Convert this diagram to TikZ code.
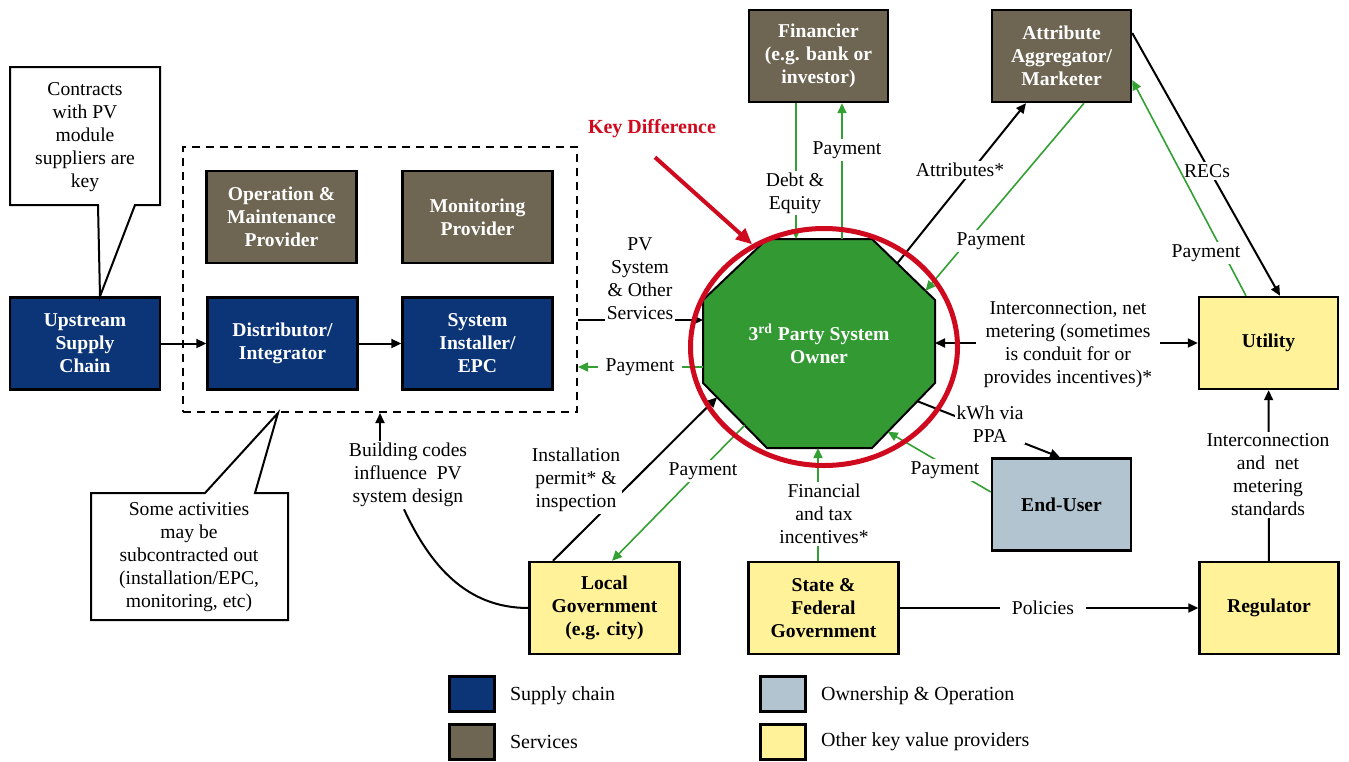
\documentclass[tikz,border=0pt]{standalone}
\usepackage{fontspec}
\setmainfont{Liberation Serif}
\usetikzlibrary{arrows.meta,shapes.geometric,calc}
\definecolor{navyblue}{RGB}{11,53,119}
\definecolor{servbrown}{RGB}{110,102,83}
\definecolor{ownergreen}{RGB}{51,153,51}
\definecolor{paygreen}{RGB}{51,160,51}
\definecolor{provyellow}{RGB}{255,242,153}
\definecolor{usergray}{RGB}{177,196,208}
\definecolor{keyred}{RGB}{208,10,30}
\begin{document}
\begin{tikzpicture}[x=0.5pt,y=-0.5pt]\tikzstyle{every node} = [align=center,font=\fontsize{9.8}{11.5}\selectfont]
    \tikzstyle{box} = [draw, line width=1.2pt, minimum width=75pt, minimum height=46pt, inner sep=1pt, font=\fontsize{9.8}{11.5}\selectfont\bfseries]
    \tikzstyle{supply} = [box, fill=navyblue, text=white]
    \tikzstyle{serv} = [box, fill=servbrown, text=white]
    \tikzstyle{prov} = [box, fill=provyellow]
    \tikzstyle{user} = [box, fill=usergray]
    \tikzstyle{lbl} = [fill=white, inner sep=1pt]
    \tikzstyle{flow} = [line width=1pt, -{Triangle[length=5pt,width=4.5pt]}]
    \tikzstyle{pay} = [paygreen, line width=0.8pt, -{Triangle[length=5pt,width=4.5pt]}]
    \tikzstyle{note} = [draw, fill=white, line width=1pt, line join=miter]

    \useasboundingbox (0,0) rectangle (1349,761);

    \node[draw, dashed, dash pattern=on 4pt off 3pt, line width=1pt, minimum width=197pt, minimum height=132.5pt] (grp) at (380,279.5) {};

    \node[supply] (up) at (85,343.5) {Upstream\\Supply\\Chain};
    \node[serv] (om) at (281.5,217) {Operation \&\\Maintenance\\Provider};
    \node[serv] (mon) at (477.5,217) {Monitoring\\Provider};
    \node[supply] (dist) at (282.5,343.5) {Distributor/\\Integrator};
    \node[supply] (inst) at (477.5,343.5) {System\\Installer/\\EPC};

    \node[serv, minimum width=69.5pt] (fin) at (818.5,56) {Financier\\(e.g. bank or\\investor)};
    \node[serv, minimum width=69.5pt] (agg) at (1061.5,56) {Attribute\\Aggregator/\\Marketer};
    \node[prov, minimum width=69.5pt] (util) at (1268.5,343) {Utility};
    \node[user, minimum width=69.5pt] (eu) at (1061.5,504.5) {End-User};
    \node[prov] (lg) at (604.5,608) {Local\\Government\\(e.g. city)};
    \node[prov] (sfg) at (823.5,608) {State \&\\Federal\\Government};
    \node[prov, minimum width=69.5pt] (reg) at (1269,608) {Regulator};

    \coordinate (o1) at (767,239);
    \coordinate (o2) at (872,239);
    \coordinate (o3) at (935,300);
    \coordinate (o4) at (935,383);
    \coordinate (o5) at (872,448);
    \coordinate (o6) at (767,448);
    \coordinate (o7) at (703,383);
    \coordinate (o8) at (703,300);
    \draw[line width=1pt, fill=ownergreen] (o1) -- (o2) -- (o3) -- (o4) -- (o5) -- (o6) -- (o7) -- (o8) -- cycle;
    \node[text=white, font=\fontsize{9.8}{11.5}\selectfont\bfseries] (owner) at (819,343.5) {3\textsuperscript{rd} Party System\\Owner};

    \draw[note] (10,67) -- (160,67) -- (160,205) -- (135,205) -- (up.north -| 100,0) -- (98,205) -- (10,205) -- cycle;
    \node (contract) at (85,137) {Contracts\\with PV\\module\\suppliers are\\key};
    \draw[note] (91,493) -- (205,493) -- (grp.south -| 278,0) -- (255,493) -- (288,493) -- (288,620) -- (91,620) -- cycle;
    \node (subnote) at (189,557) {Some activities\\may be\\subcontracted out\\(installation/EPC,\\monitoring, etc)};

    \draw[flow] (up) -- (dist);
    \draw[flow] (dist) -- (inst);

    \draw[flow] (grp.east |- 0,320) -- (o8 |- 0,320);
    \node[lbl] (pvsys) at (640,279) {PV\\System\\\& Other\\Services};
    \draw[pay] (o8 |- 0,367) -- (grp.east |- 0,367);
    \node[lbl, inner xsep=4pt] (payleft) at (640,367) {Payment};

    \draw[pay] (fin.south -| 796,0) -- (o1 -| 796,0);
    \node[lbl] (debt) at (795,193) {Debt \&\\Equity};
    \draw[pay] (o1 -| 842,0) -- (fin.south -| 842,0);
    \node[lbl] (payfin) at (847,150) {Payment};

    \draw[flow] ($(o2)!0.4!(o3)$) -- (agg.south -| 1026,0);
    \node[lbl] (attr) at (960,170) {Attributes*};
    \draw[pay] (agg.south -| 1084,0) -- ($(o2)!0.85!(o3)$);
    \node[lbl] (payagg) at (991,241) {Payment};

    \draw[flow] (agg.east |- 0,33) -- (util.north -| 1280,0);
    \node[lbl] (recs) at (1207,171) {RECs};
    \draw[pay] (util.north -| 1246,0) -- (agg.east |- 0,80);
    \node[lbl] (payrec) at (1206,253) {Payment};

    \draw[flow, {Triangle[length=5pt,width=4.5pt]}-{Triangle[length=5pt,width=4.5pt]}] (util.west) -- (o3 |- util.west);
    \node[lbl, inner xsep=4pt] (intercon) at (1068,345) {Interconnection, net\\metering (sometimes\\is conduit for or\\provides incentives)*};

    \draw[flow] ($(o4)!0.28!(o5)$) -- (eu.north -| 1060,0);
    \node[lbl] (kwh) at (990,424) {kWh via\\PPA};
    \draw[pay] (eu.west |- 0,492) -- ($(o4)!0.75!(o5)$);
    \node[lbl] (payeu) at (945,470) {Payment};

    \draw[flow] (lg.north -| 553,0) -- ($(o7)!0.22!(o6)$);
    \node[lbl] (permit) at (576,480) {Installation\\permit* \&\\inspection};
    \draw[pay] ($(o7)!0.65!(o6)$) -- (lg.north -| 612,0);
    \node[lbl] (paylg) at (703,471) {Payment};

    \draw[pay] (sfg.north -| 818,0) -- (o6 -| 818,0);
    \node[lbl] (incent) at (824,514) {Financial\\and tax\\incentives*};

    \draw[flow] (sfg) -- (reg);
    \node[lbl, inner xsep=6pt] (pol) at (1043,608) {Policies};
    \draw[flow] (reg) -- (util);
    \node[lbl] (stds) at (1268,475) {Interconnection\\and\ \ net\\metering\\standards};

    \node[lbl] (bcodes) at (408,475) {Building codes\\influence\ \ PV\\system design};
    \draw[line width=1pt] (lg.west) to[out=180,in=-65] (bcodes.south -| 404,0);
    \draw[flow] (bcodes.north -| 380,0) -- (grp.south -| 380,0);

    \node[draw=keyred, line width=2.5pt, ellipse, minimum width=133.5pt, minimum height=118.5pt, inner sep=0pt] (ring) at (824,347) {};
    \node[text=keyred, font=\fontsize{10}{11.5}\selectfont\bfseries] (keydiff) at (652,129) {Key Difference};
    \draw[keyred, line width=2pt, -{Triangle[length=8pt,width=7pt]}] (keydiff.south) ++(3,12) -- (ring.125);

    \node[supply, minimum width=22.5pt, minimum height=17.5pt] (lsupply) at (472,694) {};
    \node[anchor=west, font=\fontsize{10}{11.5}\selectfont] (tsupply) at (503,696) {Supply chain};
    \node[serv, minimum width=22.5pt, minimum height=17.5pt] (lserv) at (472,742) {};
    \node[anchor=west, font=\fontsize{10}{11.5}\selectfont] (tserv) at (503,742) {Services};
    \node[user, minimum width=22.5pt, minimum height=17.5pt] (luser) at (783,694) {};
    \node[anchor=west, font=\fontsize{10}{11.5}\selectfont] (tuser) at (814,696) {Ownership \& Operation};
    \node[prov, minimum width=22.5pt, minimum height=17.5pt] (lprov) at (783,742) {};
    \node[anchor=west, font=\fontsize{10}{11.5}\selectfont] (tprov) at (814,742) {Other key value providers};
  \end{tikzpicture}
\end{document}
